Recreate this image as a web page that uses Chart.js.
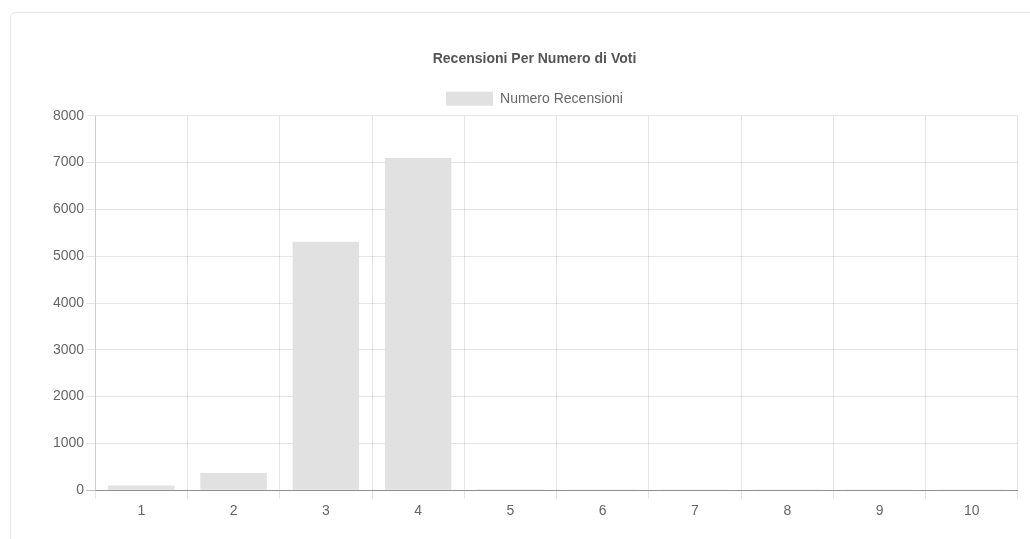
<!DOCTYPE html>
<html><head><meta charset="utf-8">
<script src="https://cdn.jsdelivr.net/npm/chart.js@4"></script>
<style>
html,body{margin:0;padding:0;background:#fff;overflow:hidden;width:1030px;height:539px;}
#card{position:absolute;left:10px;top:12px;width:1040px;height:600px;border:1px solid #e6e6e6;border-radius:6px;box-sizing:border-box;}
#wrap{position:absolute;left:51px;top:41px;width:967px;height:483px;}
</style></head>
<body>
<div id="card"></div>
<div id="wrap"><canvas id="c"></canvas></div>
<script>
const categories = ['1','2','3','4','5','6','7','8','9','10'];
const reviewCounts = [100, 370, 5310, 7100, 20, 6, 4, 3, 2, 2];
const seriesLabel = 'Numero Recensioni';
const chartTitle = 'Recensioni Per Numero di Voti';

Chart.defaults.font.family = '"Liberation Sans", Arial, Helvetica, sans-serif';
Chart.defaults.font.size = 14;
Chart.defaults.color = '#666';

new Chart(document.getElementById('c'), {
  type: 'bar',
  data: {
    labels: categories,
    datasets: [{
      label: seriesLabel,
      data: reviewCounts,
      backgroundColor: '#e1e1e1',
      borderWidth: 0
    }]
  },
  options: {
    responsive: true,
    maintainAspectRatio: false,
    animation: false,
    layout: { padding: { left: 0, right: 0, top: 0, bottom: 0 } },
    plugins: {
      title: { display: true, text: chartTitle, font: { size: 14, weight: 'bold' }, color: '#555', padding: { top: 10, bottom: 15 } },
      legend: { display: true, labels: { boxWidth: 47, boxHeight: 14, padding: 9, color: '#666', font: { size: 14 } } },
      tooltip: { enabled: false }
    },
    scales: {
      x: {
        grid: { color: 'rgba(0,0,0,0.1)', offset: true, tickLength: 9 },
        border: { color: 'rgba(0,0,0,0.25)' },
        ticks: { color: '#666', padding: 4 }
      },
      y: {
        min: 0, max: 8000,
        ticks: { stepSize: 1000, color: '#666', padding: 2, callback: v => String(v) },
        grid: { color: ctx => ctx.tick && ctx.tick.value === 0 ? 'rgba(0,0,0,0.25)' : 'rgba(0,0,0,0.1)', tickLength: 9 },
        border: { color: 'rgba(0,0,0,0.1)' }
      }
    }
  }
});
</script>
</body></html>
